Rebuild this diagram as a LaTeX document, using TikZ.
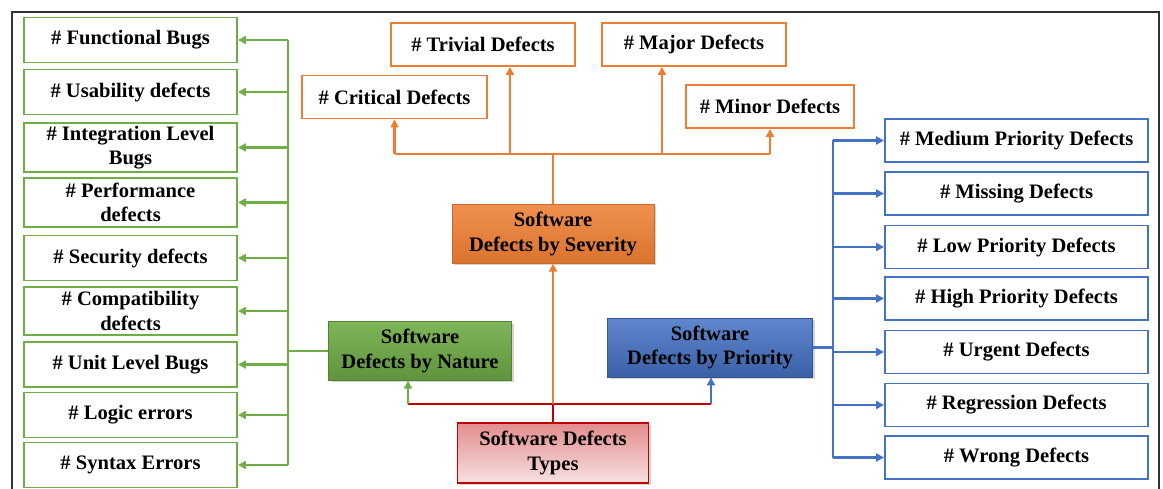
\documentclass[tikz,border=0pt]{standalone}
\usepackage{fontspec}
\setmainfont{Liberation Serif}
\usetikzlibrary{positioning, arrows.meta, shadows}

\definecolor{natgreen}{HTML}{70AD47}
\definecolor{sevorange}{HTML}{ED7D31}
\definecolor{priblue}{HTML}{4472C4}
\definecolor{typered}{HTML}{C00000}

\tikzset{
  leaf/.style={rectangle, draw, line width=1.1pt, fill=white, align=center, inner sep=1pt,
    font=\fontsize{11.7}{14}\selectfont\bfseries},
  natleaf/.style={leaf, draw=natgreen, minimum width=4.26cm, minimum height=0.9cm},
  sevleaf/.style={leaf, draw=sevorange, minimum height=0.86cm},
  prileaf/.style={leaf, draw=priblue, minimum width=5.26cm, minimum height=0.86cm},
  hub/.style={rectangle, align=center, inner sep=1pt, minimum height=1.17cm,
    font=\fontsize{11.7}{14}\selectfont\bfseries,
    drop shadow={opacity=0.35, shadow xshift=1.2pt, shadow yshift=-1.2pt}},
  link/.style={line width=1.2pt, -{Triangle[length=4.5pt, width=4.5pt]}},
  bus/.style={line width=1.2pt}
}

\begin{document}
\begin{tikzpicture}[x=0.02cm, y=-0.02cm]
    \useasboundingbox (0,0) rectangle (1163,489);
    % frame
    \draw[line width=1.2pt, black!80] (12,489) -- (12,12) -- (1159,12) -- (1159,489);

    % centre boxes
    \node[hub, draw=typered, line width=1.1pt, top color=typered!45, bottom color=typered!12, minimum width=3.82cm, minimum height=1.2cm] (types) at (553,453) {Software Defects\\Types};
    \node[hub, draw=sevorange!85!black, line width=0.5pt, top color=sevorange!85!white, bottom color=sevorange!92!black, minimum width=4.04cm] (sev) at (553,234) {Software\\Defects by Severity};
    \node[hub, draw=natgreen!75!black, line width=0.5pt, top color=natgreen!90!white, bottom color=natgreen!85!black, minimum width=3.66cm] (nature) at (420,351) {Software\\Defects by Nature};
    \node[hub, draw=priblue!75!black, line width=0.5pt, top color=priblue!85!white, bottom color=priblue!85!black, minimum width=4.1cm, minimum height=1.18cm] (prio) at (710,347.5) {Software\\Defects by Priority};

    % defects by nature
    \node[natleaf] (fb) at (130.5,40) {\# Functional Bugs};
    \node[natleaf] (ud) at (130.5,92) {\# Usability defects};
    \node[natleaf, minimum height=0.98cm] (ilb) at (130.5,147.5) {\# Integration Level\\Bugs};
    \node[natleaf, minimum height=0.98cm] (pd) at (130.5,202.5) {\# Performance\\defects};
    \node[natleaf] (sd) at (130.5,258) {\# Security defects};
    \node[natleaf, minimum height=0.96cm] (cd) at (130.5,311) {\# Compatibility\\defects};
    \node[natleaf] (ulb) at (130.5,364.5) {\# Unit Level Bugs};
    \node[natleaf] (le) at (130.5,415) {\# Logic errors};
    \node[natleaf] (se) at (130.5,465) {\# Syntax Errors};

    % defects by severity
    \node[sevleaf, minimum width=3.7cm] (crit) at (394.5,97) {\# Critical Defects};
    \node[sevleaf, minimum width=3.68cm] (triv) at (483,44.5) {\# Trivial Defects};
    \node[sevleaf, minimum width=3.68cm] (major) at (694,44.5) {\# Major Defects};
    \node[sevleaf, minimum width=3.36cm] (minor) at (770,106.5) {\# Minor Defects};

    % defects by priority
    \node[prileaf] (med) at (1016.5,140.5) {\# Medium Priority Defects};
    \node[prileaf] (miss) at (1016.5,193.5) {\# Missing Defects};
    \node[prileaf] (low) at (1016.5,247) {\# Low Priority Defects};
    \node[prileaf] (high) at (1016.5,298.5) {\# High Priority Defects};
    \node[prileaf] (urg) at (1016.5,352) {\# Urgent Defects};
    \node[prileaf] (reg) at (1016.5,405) {\# Regression Defects};
    \node[prileaf] (wrong) at (1016.5,457.5) {\# Wrong Defects};

    % bus points
    \coordinate (typebus) at (553,404);
    \coordinate (natup) at (408,404);
    \coordinate (priup) at (711,404);
    \coordinate (sevbus) at (553,154);
    \coordinate (trivup) at (510,154);
    \coordinate (majup) at (662,154);
    \coordinate (natbus) at (288,351);
    \coordinate (pribus) at (833,347.5);

    % types to the three groups
    \draw[bus, typered] (types.north) -- (typebus);
    \draw[bus, typered] (natup) -- (priup);
    \draw[link, natgreen] (natup) -- (natup |- nature.south);
    \draw[link, priblue] (priup) -- (priup |- prio.south);
    \draw[link, sevorange] (typebus) -- (sev.south);

    % severity
    \draw[bus, sevorange] (sev.north) -- (sevbus);
    \draw[bus, sevorange] (crit.south |- sevbus) -- (minor.south |- sevbus);
    \draw[link, sevorange] (crit.south |- sevbus) -- (crit.south);
    \draw[link, sevorange] (trivup) -- (trivup |- triv.south);
    \draw[link, sevorange] (majup) -- (majup |- major.south);
    \draw[link, sevorange] (minor.south |- sevbus) -- (minor.south);

    % nature
    \draw[bus, natgreen] (nature.west) -- (natbus);
    \draw[bus, natgreen] (natbus |- fb.east) -- (natbus |- se.east);
    \draw[link, natgreen] (natbus |- fb.east) -- (fb.east);
    \draw[link, natgreen] (natbus |- ud.east) -- (ud.east);
    \draw[link, natgreen] (natbus |- ilb.east) -- (ilb.east);
    \draw[link, natgreen] (natbus |- pd.east) -- (pd.east);
    \draw[link, natgreen] (natbus |- sd.east) -- (sd.east);
    \draw[link, natgreen] (natbus |- cd.east) -- (cd.east);
    \draw[link, natgreen] (natbus |- ulb.east) -- (ulb.east);
    \draw[link, natgreen] (natbus |- le.east) -- (le.east);
    \draw[link, natgreen] (natbus |- se.east) -- (se.east);

    % priority
    \draw[bus, priblue] (prio.east) -- (pribus);
    \draw[bus, priblue] (pribus |- med.west) -- (pribus |- wrong.west);
    \draw[link, priblue] (pribus |- med.west) -- (med.west);
    \draw[link, priblue] (pribus |- miss.west) -- (miss.west);
    \draw[link, priblue] (pribus |- low.west) -- (low.west);
    \draw[link, priblue] (pribus |- high.west) -- (high.west);
    \draw[link, priblue] (pribus |- urg.west) -- (urg.west);
    \draw[link, priblue] (pribus |- reg.west) -- (reg.west);
    \draw[link, priblue] (pribus |- wrong.west) -- (wrong.west);
\end{tikzpicture}
\end{document}
